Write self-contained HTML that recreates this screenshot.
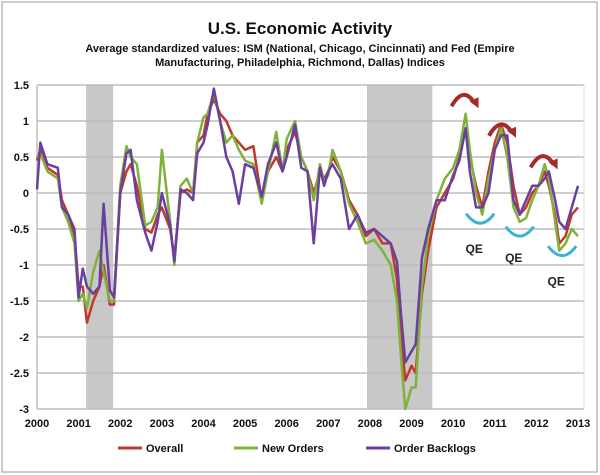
<!DOCTYPE html>
<html><head><meta charset="utf-8"><style>
body{margin:0;background:#fff;}
svg{display:block;font-family:"Liberation Sans",sans-serif;}
</style></head><body>
<svg id="chart" width="600" height="475" viewBox="0 0 600 475">
<rect x="2" y="2" width="595" height="470" fill="#fff" stroke="#bbb" stroke-width="1.5"/>
<text x="300" y="34" text-anchor="middle" font-size="17" font-weight="bold" fill="#111">U.S. Economic Activity</text>
<text x="300" y="52" text-anchor="middle" font-size="11" font-weight="bold" fill="#111">Average standardized values: ISM (National, Chicago, Cincinnati) and Fed (Empire</text>
<text x="300" y="66" text-anchor="middle" font-size="11" font-weight="bold" fill="#111">Manufacturing, Philadelphia, Richmond, Dallas) Indices</text>
<g id="plot"></g>
</svg>
<script>
const yTicks=[1.5,1,0.5,0,-0.5,-1,-1.5,-2,-2.5,-3];
const yTickLabels=["1.5","1","0.5","0","-0.5","-1","-1.5","-2","-2.5","-3"];
const xYears=[2000,2001,2002,2003,2004,2005,2006,2007,2008,2009,2010,2011,2012,2013];
const recessions=[[2001.18,2001.83],[2007.93,2009.5]];
const dates=[2000.0,2000.08,2000.25,2000.5,2000.6,2000.75,2000.9,2001.0,2001.1,2001.2,2001.35,2001.5,2001.6,2001.75,2001.85,2002.0,2002.15,2002.25,2002.4,2002.6,2002.75,2002.9,2003.0,2003.2,2003.3,2003.45,2003.6,2003.75,2003.85,2004.0,2004.1,2004.25,2004.4,2004.55,2004.7,2004.85,2005.0,2005.2,2005.4,2005.55,2005.75,2005.9,2006.0,2006.2,2006.35,2006.5,2006.65,2006.8,2006.9,2007.0,2007.1,2007.3,2007.5,2007.7,2007.9,2008.1,2008.3,2008.5,2008.65,2008.75,2008.85,2009.0,2009.1,2009.25,2009.4,2009.6,2009.8,2010.0,2010.15,2010.3,2010.4,2010.55,2010.7,2010.85,2011.0,2011.15,2011.3,2011.45,2011.6,2011.75,2011.9,2012.05,2012.2,2012.3,2012.45,2012.55,2012.7,2012.85,2013.0];
const overall=[0.45,0.6,0.35,0.25,-0.1,-0.3,-0.6,-1.3,-1.3,-1.8,-1.5,-1.3,-1.0,-1.55,-1.55,0.0,0.3,0.4,0.1,-0.5,-0.55,-0.3,-0.2,-0.5,-0.9,0.0,0.05,0.0,0.7,0.8,1.1,1.3,1.1,1.0,0.8,0.7,0.6,0.65,-0.1,0.3,0.5,0.3,0.6,0.85,0.5,0.3,0.0,0.3,0.2,0.3,0.5,0.3,-0.1,-0.3,-0.6,-0.5,-0.7,-0.7,-1.2,-2.0,-2.6,-2.4,-2.5,-1.4,-0.8,-0.2,0.0,0.2,0.5,0.9,0.5,0.1,-0.2,0.3,0.7,0.95,0.7,0.1,-0.3,-0.2,0.0,0.1,0.3,0.1,-0.3,-0.7,-0.6,-0.3,-0.2];
const newOrders=[0.5,0.55,0.3,0.2,-0.2,-0.4,-0.7,-1.5,-1.4,-1.6,-1.1,-0.8,-1.1,-1.5,-1.5,0.1,0.65,0.5,0.4,-0.45,-0.4,-0.2,0.6,-0.4,-1.0,0.1,0.2,0.0,0.7,1.05,1.1,1.4,1.0,0.7,0.8,0.6,0.45,0.4,-0.15,0.3,0.85,0.3,0.75,1.0,0.5,0.3,-0.1,0.4,0.15,0.25,0.6,0.3,-0.15,-0.4,-0.7,-0.65,-0.8,-1.0,-1.5,-2.3,-3.0,-2.7,-2.7,-1.3,-0.6,-0.1,0.2,0.35,0.6,1.1,0.6,0.0,-0.3,0.2,0.6,0.9,0.5,-0.2,-0.4,-0.35,-0.1,0.1,0.4,0.2,-0.4,-0.8,-0.7,-0.5,-0.6];
const backlogs=[0.05,0.7,0.4,0.35,-0.2,-0.3,-0.5,-1.45,-1.05,-1.3,-1.4,-1.3,-0.15,-1.35,-1.45,0.0,0.55,0.6,-0.1,-0.55,-0.8,-0.4,0.0,-0.45,-0.95,0.05,0.0,-0.1,0.55,0.7,0.95,1.45,1.0,0.5,0.3,-0.15,0.4,0.35,-0.05,0.4,0.7,0.3,0.5,0.95,0.35,0.3,-0.7,0.35,0.1,0.3,0.4,0.2,-0.5,-0.3,-0.55,-0.5,-0.6,-0.7,-0.95,-1.7,-2.35,-2.2,-2.1,-0.9,-0.5,-0.1,-0.1,0.25,0.45,0.9,0.3,-0.2,-0.2,0.0,0.6,0.8,0.8,-0.1,-0.3,-0.1,0.1,0.1,0.2,0.3,-0.1,-0.4,-0.5,-0.2,0.1];
const seriesNames=["Overall","New Orders","Order Backlogs"];
const seriesColors=["#c0392b","#7fb239","#6a3fa0"];
const ns="http://www.w3.org/2000/svg";
const L=37,R=584,T=85,B=409;
const xs=y=>L+(y-2000)*(578-37)/13;
const ys=v=>T+(1.5-v)*(B-T)/4.5;
const g=document.getElementById('plot');
function mk(t,a){const e=document.createElementNS(ns,t);for(const k in a)e.setAttribute(k,a[k]);g.appendChild(e);return e;}
recessions.forEach((r,i)=>{const e=mk('rect',{x:xs(r[0]),y:T,width:xs(r[1])-xs(r[0]),height:B-T,fill:'#c8c8c8'});

});
yTicks.forEach((v,i)=>{const l=mk('line',{x1:L,x2:R,y1:ys(v),y2:ys(v),stroke:'#bdbdbd','stroke-width':1.5});


const t=mk('text',{x:L-8,y:ys(v)+4,'text-anchor':'end','font-size':11,'font-weight':'bold',fill:'#111'});t.textContent=yTickLabels[i];

});
const ax=mk('line',{x1:L,x2:L,y1:T,y2:B,stroke:'#bdbdbd','stroke-width':1.5});


const rx=mk('line',{x1:R,x2:R,y1:T,y2:B,stroke:'#ddd','stroke-width':1});


xYears.forEach(y=>{const t=mk('text',{x:xs(y),y:427,'text-anchor':'middle','font-size':11,'font-weight':'bold',fill:'#111'});t.textContent=y;

});
[overall,newOrders,backlogs].forEach((s,i)=>{const p=mk('polyline',{points:s.map((v,j)=>xs(dates[j])+','+ys(v)).join(' '),fill:'none',stroke:seriesColors[i],'stroke-width':2.5,'stroke-linejoin':'round'});

});
// peak arrows: [year, apex value]
[[2010.25,1.4],[2011.15,0.99],[2012.15,0.55]].forEach(a=>{const x=xs(a[0]),y=ys(a[1])+7;
const p=mk('path',{d:`M${x-12},${y+7} Q${x},${y-14} ${x+11},${y+4}`,fill:'none',stroke:'#a52a2a','stroke-width':4});


const h=mk('path',{d:`M${x+6},${y+2} L${x+15},${y+9} L${x+15},${y-2}Z`,fill:'#a52a2a'});

});
// QE troughs: [year, bottom value, label value]
[[2010.65,-0.44,-0.78],[2011.6,-0.62,-0.9],[2012.62,-0.89,-1.23]].forEach(a=>{const x=xs(a[0]),y=ys(a[1])-8;
const p=mk('path',{d:`M${x-14},${y-3} Q${x},${y+16} ${x+14},${y-3}`,fill:'none',stroke:'#3bb3d0','stroke-width':3});


const t=mk('text',{x:x-6,y:ys(a[2])+4,'text-anchor':'middle','font-size':12,'font-weight':'bold',fill:'#222'});t.textContent='QE';

});
// legend
[[146,'Overall'],[262,'New Orders'],[394,'Order Backlogs']].forEach((l,i)=>{
const ln=mk('line',{x1:l[0]-28,x2:l[0]-4,y1:448,y2:448,stroke:seriesColors[i],'stroke-width':3});


const t=mk('text',{x:l[0],y:452,'font-size':11,'font-weight':'bold',fill:'#111'});t.textContent=l[1];

});
</script>
</body></html>
